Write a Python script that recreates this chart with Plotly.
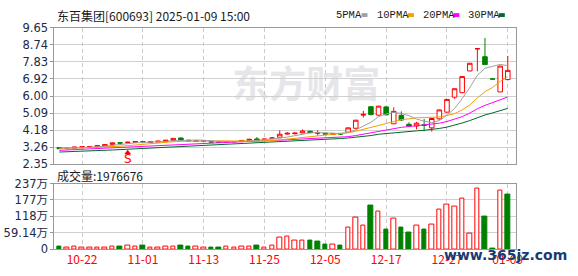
import plotly.graph_objects as go

W, H = 578, 276

dates = ["10-17", "10-18", "10-21", "10-22", "10-23", "10-24", "10-25", "10-28", "10-29", "10-30",
         "10-31", "11-01", "11-04", "11-05", "11-06", "11-07", "11-08", "11-11", "11-12", "11-13",
         "11-14", "11-15", "11-18", "11-19", "11-20", "11-21", "11-22", "11-25", "11-26", "11-27",
         "11-28", "11-29", "12-02", "12-03", "12-04", "12-05", "12-06", "12-09", "12-10", "12-11",
         "12-12", "12-13", "12-16", "12-17", "12-18", "12-19", "12-20", "12-23", "12-24", "12-25",
         "12-26", "12-27", "12-30", "12-31", "01-02", "01-03", "01-06", "01-07", "01-08", "01-09"]

open_ = [3.25, 3.19, 3.22, 3.24, 3.26, 3.29, 3.32, 3.42, 3.50, 3.50,
         3.53, 3.56, 3.53, 3.54, 3.58, 3.63, 3.76, 3.64, 3.58, 3.59,
         3.58, 3.56, 3.53, 3.55, 3.57, 3.63, 3.71, 3.66, 3.72, 3.80,
         3.97, 3.99, 4.03, 4.12, 4.02, 4.01, 3.95, 4.00, 4.07, 4.28,
         4.98, 5.43, 4.98, 5.42, 4.52, 4.97, 4.49, 4.40, 4.46, 4.30,
         4.78, 5.14, 5.94, 6.18, 7.34, 8.52, 8.10, 6.91, 6.22, 6.88]
high = [3.26, 3.23, 3.28, 3.30, 3.31, 3.36, 3.42, 3.51, 3.53, 3.57,
        3.58, 3.57, 3.56, 3.61, 3.65, 3.76, 3.78, 3.66, 3.62, 3.63,
        3.59, 3.57, 3.56, 3.58, 3.64, 3.70, 3.81, 3.71, 3.81, 4.17,
        4.07, 4.05, 4.22, 4.15, 4.17, 4.03, 4.00, 4.04, 4.32, 4.73,
        5.21, 5.45, 5.48, 5.45, 5.40, 5.18, 4.60, 4.62, 4.78, 4.82,
        5.27, 5.84, 6.40, 7.05, 7.76, 8.53, 9.10, 6.91, 7.60, 8.14]
low = [3.17, 3.17, 3.21, 3.23, 3.25, 3.28, 3.31, 3.41, 3.45, 3.46,
       3.52, 3.52, 3.52, 3.53, 3.57, 3.62, 3.63, 3.60, 3.57, 3.58,
       3.53, 3.52, 3.52, 3.54, 3.56, 3.62, 3.62, 3.65, 3.71, 3.79,
       3.94, 3.95, 4.02, 4.01, 3.88, 3.95, 3.93, 3.92, 4.03, 4.24,
       4.85, 4.97, 4.95, 4.97, 4.50, 4.67, 4.37, 4.22, 4.12, 4.10,
       4.74, 5.12, 5.85, 6.17, 7.33, 7.32, 7.66, 6.91, 6.22, 6.85]
close = [3.19, 3.21, 3.27, 3.29, 3.30, 3.35, 3.41, 3.50, 3.49, 3.53,
         3.57, 3.53, 3.55, 3.59, 3.64, 3.74, 3.65, 3.60, 3.60, 3.61,
         3.54, 3.53, 3.55, 3.57, 3.63, 3.69, 3.64, 3.70, 3.76, 3.96,
         4.01, 4.02, 4.13, 4.05, 4.03, 3.97, 3.99, 3.97, 4.30, 4.71,
         5.02, 5.01, 5.46, 5.00, 5.18, 4.72, 4.40, 4.55, 4.44, 4.80,
         5.26, 5.82, 6.39, 7.04, 7.75, 8.53, 7.68, 6.91, 7.60, 7.37]

# volume in 万 (10k shares)
volume_wan = [8, 6, 10, 6, 6, 6, 6, 10, 10, 14,
              10, 11, 6, 6, 10, 10, 14, 10, 10, 6,
              7, 7, 9, 7, 9, 9, 14, 7, 14, 41,
              45, 31, 31, 31, 27, 17, 17, 14, 79, 113,
              86, 158, 134, 69, 110, 79, 58, 86, 72, 88,
              141, 161, 154, 182, 57, 218, 117, 1, 212, 197.67]

ma5 = [3.22, 3.21, 3.22, 3.24, 3.25, 3.28, 3.32, 3.37, 3.41, 3.46,
       3.50, 3.52, 3.53, 3.55, 3.58, 3.61, 3.63, 3.64, 3.65, 3.64,
       3.60, 3.58, 3.57, 3.56, 3.56, 3.59, 3.62, 3.65, 3.68, 3.75,
       3.81, 3.89, 3.98, 4.03, 4.05, 4.04, 4.03, 4.00, 4.05, 4.19,
       4.40, 4.60, 4.90, 5.04, 5.13, 5.07, 4.95, 4.77, 4.66, 4.58,
       4.69, 4.97, 5.34, 5.86, 6.45, 7.11, 7.48, 7.58, 7.69, 7.62]
ma10 = [3.20, 3.21, 3.22, 3.23, 3.24, 3.25, 3.27, 3.30, 3.32, 3.35,
        3.39, 3.42, 3.45, 3.48, 3.52, 3.56, 3.58, 3.59, 3.60, 3.61,
        3.61, 3.61, 3.61, 3.60, 3.60, 3.60, 3.60, 3.61, 3.62, 3.66,
        3.70, 3.75, 3.81, 3.86, 3.90, 3.93, 3.96, 3.99, 4.04, 4.12,
        4.22, 4.32, 4.45, 4.55, 4.66, 4.74, 4.78, 4.84, 4.85, 4.86,
        4.88, 4.96, 5.06, 5.26, 5.52, 5.90, 6.23, 6.46, 6.78, 7.04]
ma20 = [3.10, 3.12, 3.14, 3.16, 3.18, 3.20, 3.22, 3.25, 3.27, 3.29,
        3.31, 3.33, 3.35, 3.37, 3.39, 3.42, 3.43, 3.45, 3.46, 3.48,
        3.50, 3.51, 3.53, 3.54, 3.56, 3.58, 3.59, 3.60, 3.61, 3.63,
        3.65, 3.68, 3.71, 3.73, 3.75, 3.76, 3.78, 3.80, 3.83, 3.89,
        3.96, 4.04, 4.13, 4.20, 4.28, 4.33, 4.37, 4.41, 4.45, 4.49,
        4.55, 4.64, 4.75, 4.90, 5.09, 5.32, 5.50, 5.65, 5.81, 5.95]
ma30 = [3.01, 3.02, 3.04, 3.05, 3.07, 3.08, 3.10, 3.12, 3.14, 3.16,
        3.18, 3.19, 3.21, 3.23, 3.25, 3.27, 3.29, 3.31, 3.33, 3.35,
        3.37, 3.38, 3.40, 3.42, 3.44, 3.46, 3.48, 3.50, 3.52, 3.54,
        3.57, 3.59, 3.62, 3.65, 3.67, 3.69, 3.71, 3.73, 3.76, 3.79,
        3.84, 3.89, 3.96, 4.00, 4.05, 4.09, 4.11, 4.14, 4.17, 4.21,
        4.27, 4.34, 4.44, 4.56, 4.69, 4.85, 4.99, 5.10, 5.22, 5.34]

price_ticks = [2.35, 3.2625, 4.175, 5.0875, 6.0, 6.9125, 7.825, 8.7375, 9.65]
price_tick_text = ["2.35", "3.26", "4.18", "5.09", "6.00", "6.92", "7.83", "8.74", "9.65"]
vol_ticks = [0, 59.14, 118.28, 177.42, 236.56]
vol_tick_text = ["0", "59.14万", "118万", "177万", "237万"]
date_ticks = ["10-22", "11-01", "11-13", "11-25", "12-05", "12-17", "12-27", "01-09"]

signal_dates = ["10-30"]
signal_marker_price = [2.97]
signal_label_price = [2.60]
signal_labels = ["S"]

title_text = "东百集团[600693] 2025-01-09 15:00"
vol_label = "成交量:1976676"
ma_names = ["5PMA", "10PMA", "20PMA", "30PMA"]
ma_colors = ["#a0a0a0", "#f5a000", "#ff00ff", "#00692a"]
RED = "#ff0000"
GREEN = "#008000"

def px(x):
    return x / W

def py(y):
    return 1 - y / H

X_DOM = [px(55), px(522)]
XR = [-0.65, 60.04]

fig = go.Figure()

fig.add_trace(go.Candlestick(
    x=dates, open=open_, high=high, low=low, close=close,
    xaxis="x", yaxis="y",
    increasing=dict(line=dict(color=RED, width=1), fillcolor="#ffffff"),
    decreasing=dict(line=dict(color=GREEN, width=1), fillcolor=GREEN),
    whiskerwidth=0, showlegend=False, hoverinfo="skip"))

for vals, col in zip([ma30, ma20, ma10, ma5], ma_colors[::-1]):
    fig.add_trace(go.Scatter(x=dates, y=vals, mode="lines", xaxis="x", yaxis="y",
                             line=dict(color=col, width=1), showlegend=False,
                             hoverinfo="skip"))

fig.add_trace(go.Scatter(x=signal_dates, y=signal_marker_price, mode="markers",
                         xaxis="x", yaxis="y",
                         marker=dict(symbol="triangle-up", size=6, color=RED),
                         showlegend=False, hoverinfo="skip"))
fig.add_trace(go.Scatter(x=signal_dates, y=signal_label_price, mode="text",
                         text=signal_labels, xaxis="x", yaxis="y",
                         textfont=dict(family="DejaVu Sans", size=12, color=RED),
                         showlegend=False, hoverinfo="skip"))

up = []
for i in range(len(close)):
    ref = close[i - 1] if i > 0 else open_[i]
    up.append(close[i] >= ref)
fill = ["#ffffff" if u else GREEN for u in up]
edge = [RED if u else GREEN for u in up]
fig.add_trace(go.Bar(x=dates, y=volume_wan, xaxis="x2", yaxis="y2", width=0.6,
                     marker=dict(color=fill, line=dict(color=edge, width=1)),
                     showlegend=False, hoverinfo="skip"))

tick_font = dict(family="DejaVu Sans, Noto Sans CJK SC", size=11.5, color="#202a44")
common_x = dict(type="category", range=XR, domain=X_DOM, tickvals=date_ticks,
                showgrid=True, gridcolor="#cccccc", griddash="4px,3px", gridwidth=1,
                showline=True, linecolor="#999999", linewidth=1, mirror=True,
                zeroline=False, ticks="", fixedrange=True)
common_y = dict(showgrid=True, gridcolor="#d0d0d0", gridwidth=1, showline=True,
                linecolor="#999999", linewidth=1, mirror=True, zeroline=False,
                ticks="outside", ticklen=3, tickcolor="#999999", tickfont=tick_font,
                fixedrange=True)

fig.update_layout(
    width=W, height=H, margin=dict(l=0, r=0, t=0, b=0), autosize=False,
    paper_bgcolor="#ffffff", plot_bgcolor="#ffffff",
    boxgap=0.2, boxgroupgap=0.25, bargap=0,
    xaxis=dict(anchor="y", showticklabels=False, rangeslider=dict(visible=False), **common_x),
    yaxis=dict(anchor="x", domain=[py(165.8), py(21.8)], range=[2.35, 9.65],
               tickvals=price_ticks, ticktext=price_tick_text, **common_y),
    xaxis2=dict(anchor="y2", showticklabels=True,
                tickfont=dict(family="Noto Sans CJK SC", size=12, color=RED), **common_x),
    yaxis2=dict(anchor="x2", domain=[py(255), py(186)], range=[0, 236.56],
                tickvals=vol_ticks, ticktext=vol_tick_text, **common_y),
)

annotations = [
    dict(text=title_text, x=px(56), y=py(8.5), xanchor="left", yanchor="middle",
         font=dict(family="Noto Sans CJK SC", size=12, color="#1a1a1a")),
    dict(text=vol_label, x=px(56), y=py(177.5), xanchor="left", yanchor="middle",
         font=dict(family="Noto Sans CJK SC", size=12, color="#1a1a1a")),
    dict(text="www.365jz.com", x=px(512), y=py(261), xanchor="center", yanchor="middle",
         font=dict(family="DejaVu Sans", size=14, color="#1b3a73", weight="bold")),
]
legend_text_x = [338, 380, 426, 472]
legend_box_x = [366, 413, 459, 505]
shapes = []
for name, col, tx, bx in zip(ma_names, ma_colors, legend_text_x, legend_box_x):
    annotations.append(dict(text=name, x=px(tx), y=py(8.5), xanchor="left", yanchor="middle",
                            font=dict(family="Liberation Mono", size=10.5, color="#1a1a1a")))
    shapes.append(dict(type="rect", xref="paper", yref="paper", x0=px(bx), x1=px(bx + 6),
                       y0=py(10.5), y1=py(6.5), line=dict(width=0), fillcolor=col))
for a in annotations:
    a.update(xref="paper", yref="paper", showarrow=False)

shapes.append(dict(type="rect", xref="paper", yref="paper", layer="below",
                   x0=px(235), x1=px(385), y0=py(110), y1=py(60),
                   line=dict(width=0), fillcolor="rgba(0,0,0,0)",
                   label=dict(text="东方财富", textposition="middle center",
                              font=dict(family="Noto Sans CJK SC", size=37,
                                        color="#e6e6ea", weight="bold"))))

fig.update_layout(annotations=annotations, shapes=shapes)
fig.write_html("out.html")
